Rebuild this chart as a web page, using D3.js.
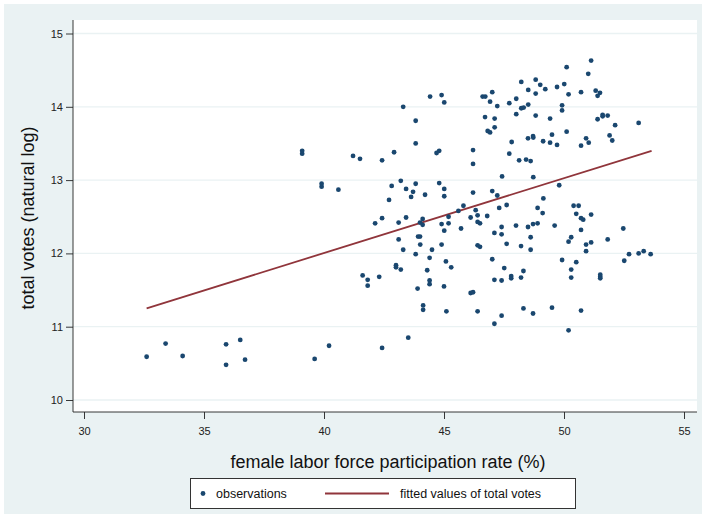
<!DOCTYPE html>
<html><head><meta charset="utf-8">
<script src="https://cdn.jsdelivr.net/npm/d3@7"></script>
<style>body{margin:0;background:#fff}svg{display:block}text{font-family:"Liberation Sans",Arial,sans-serif}</style>
</head><body>
<script>
const obsX = [39.09,39.09,39.90,39.90,32.61,33.40,34.11,35.92,35.92,36.51,36.71,39.61,40.21,
44.42,44.90,45.01,43.30,43.82,43.82,41.21,41.50,42.42,42.92,44.69,44.80,40.60,43.20,43.82,42.82,43.42,43.71,43.63,44.21,44.80,45.01,45.01,42.71,42.42,42.13,43.11,43.42,44.11,44.00,44.11,44.90,45.19,45.19,45.01,43.11,43.92,44.00,44.01,43.30,43.82,44.50,44.90,44.40,
45.08,41.61,41.82,41.82,42.30,43.00,43.00,43.20,44.30,44.40,44.40,43.90,45.00,44.13,44.13,45.10,42.42,43.51,
50.11,48.22,48.82,49.01,48.51,48.82,49.22,49.71,50.01,50.19,46.61,46.72,47.01,46.92,47.22,47.72,48.01,48.22,48.32,48.51,48.01,48.82,49.92,49.92,46.71,47.11,47.11,46.82,46.92,49.42,50.11,49.50,48.50,48.71,48.72,47.82,49.13,49.42,49.71,46.21,47.72,48.13,48.42,48.61,46.21,47.42,48.72,46.21,47.01,47.22,49.80,49.14,
45.81,45.60,45.71,46.11,46.32,46.40,46.40,46.50,46.80,47.30,47.61,47.40,47.10,47.40,48.00,46.40,46.50,47.61,48.21,48.50,48.71,48.90,48.90,49.11,49.61,48.61,48.61,50.19,45.30,46.11,46.21,47.01,47.10,47.40,47.51,47.80,47.80,48.21,48.31,49.92,46.40,47.40,47.10,48.31,48.71,49.50,50.19,
51.13,51.01,50.71,51.32,51.50,51.40,51.40,51.61,51.61,51.82,53.11,52.13,50.92,51.03,51.90,52.01,50.71,
50.40,50.61,50.51,51.13,50.71,50.80,50.71,52.47,51.82,50.30,50.92,51.13,50.92,52.71,53.11,53.32,53.61,52.51,50.51,50.30,50.30,51.51,51.51,51.51,50.71];
const obsY = [13.36,13.40,12.91,12.95,10.59,10.77,10.60,10.76,10.48,10.82,10.55,10.56,10.74,
14.14,14.16,14.06,14.00,13.81,13.50,13.33,13.29,13.27,13.38,13.37,13.40,12.87,12.99,12.95,12.92,12.88,12.84,12.77,12.80,12.96,12.88,12.78,12.73,12.48,12.41,12.42,12.49,12.47,12.42,12.39,12.40,12.50,12.41,12.31,12.19,12.23,12.23,12.12,12.05,11.99,12.05,12.12,11.94,
11.89,11.70,11.64,11.56,11.68,11.84,11.81,11.78,11.77,11.63,11.58,11.52,11.55,11.29,11.23,11.21,10.71,10.85,
14.54,14.34,14.37,14.30,14.23,14.18,14.24,14.27,14.31,14.17,14.14,14.14,14.20,14.07,14.01,14.05,14.11,13.98,13.99,14.03,13.90,13.88,14.02,13.95,13.86,13.84,13.72,13.67,13.65,13.84,13.66,13.62,13.57,13.60,13.58,13.52,13.53,13.51,13.48,13.41,13.36,13.27,13.28,13.26,13.22,13.05,13.04,12.83,12.85,12.79,12.93,12.75,
12.65,12.58,12.34,12.49,12.59,12.52,12.43,12.41,12.51,12.62,12.66,12.36,12.28,12.26,12.38,12.11,12.09,12.13,12.10,12.36,12.40,12.41,12.62,12.55,12.38,12.22,12.05,12.16,11.81,11.46,11.47,11.92,11.64,11.63,11.80,11.69,11.66,11.67,11.76,11.91,11.21,11.15,11.04,11.25,11.18,11.26,10.95,
14.63,14.45,14.20,14.22,14.19,14.15,13.83,13.89,13.87,13.88,13.78,13.75,13.57,13.51,13.61,13.54,13.47,
12.65,12.65,12.54,12.53,12.48,12.46,12.32,12.34,12.19,12.22,12.12,12.15,12.03,11.99,12.00,12.03,11.99,11.90,11.88,11.78,11.67,11.71,11.68,11.66,11.22];
const fitX = [32.61, 53.65];
const fitY = [11.25, 13.40];
const xTicks = [30, 35, 40, 45, 50, 55];
const yTicks = [10, 11, 12, 13, 14, 15];
const xTitle = "female labor force participation rate (%)";
const yTitle = "total votes (natural log)";
const legendLabels = ["observations", "fitted values of total votes"];

const W = 706, H = 518;
const plot = {left: 73, right: 697, top: 20, bottom: 412};
const navy = "#1a476f", maroon = "#90353b", bg = "#eaf2f3";

const svg = d3.select("body").append("svg").attr("width", W).attr("height", H);
svg.append("rect").attr("x", 4).attr("y", 4).attr("width", W - 8).attr("height", H - 8).attr("fill", bg);
svg.append("rect").attr("x", plot.left).attr("y", plot.top)
  .attr("width", plot.right - plot.left).attr("height", plot.bottom - plot.top).attr("fill", "#fff");

const x = d3.scaleLinear().domain([30, 55]).range([84, 684]);
const y = d3.scaleLinear().domain([10, 15]).range([400, 33.5]);

// gridlines
svg.append("g").selectAll("line").data(yTicks).join("line")
  .attr("x1", plot.left).attr("x2", plot.right)
  .attr("y1", d => y(d)).attr("y2", d => y(d))
  .attr("stroke", bg).attr("stroke-width", 1.3);

// axes
const yAxis = svg.append("g").attr("transform", `translate(${plot.left},0)`)
  .call(d3.axisLeft(y).tickValues(yTicks).tickFormat(d3.format("d")).tickSize(7).tickPadding(3));
const xAxis = svg.append("g").attr("transform", `translate(0,${plot.bottom})`)
  .call(d3.axisBottom(x).tickValues(xTicks).tickFormat(d3.format("d")).tickSize(7).tickPadding(8));
yAxis.select(".domain").attr("d", `M0,${plot.top}V${plot.bottom}`);
xAxis.select(".domain").attr("d", `M${plot.left},0H${plot.right}`);
[xAxis, yAxis].forEach(a => {
  a.selectAll("path,line").attr("stroke", "#222").attr("stroke-width", 0.9);
  a.selectAll("text").attr("font-size", 11).attr("fill", "#222")
    .style("font-family", '"Liberation Sans", Arial, sans-serif');
});

// fitted line
const pts = fitX.map((v, i) => [v, fitY[i]]);
svg.append("path").datum(pts)
  .attr("d", d3.line().x(d => x(d[0])).y(d => y(d[1])))
  .attr("stroke", maroon).attr("stroke-width", 1.8).attr("fill", "none");

// observations
svg.append("g").selectAll("circle").data(obsX.map((v, i) => [v, obsY[i]])).join("circle")
  .attr("cx", d => x(d[0])).attr("cy", d => y(d[1])).attr("r", 2.4).attr("fill", navy);

// titles
svg.append("text").attr("x", 388).attr("y", 468)
  .attr("text-anchor", "middle").attr("font-size", 18).attr("fill", "#111").text(xTitle);
svg.append("text").attr("transform", `translate(34,218) rotate(-90)`)
  .attr("text-anchor", "middle").attr("font-size", 18).attr("fill", "#111").text(yTitle);

// legend
const lg = svg.append("g");
lg.append("rect").attr("x", 190.5).attr("y", 478.5).attr("width", 385).attr("height", 30)
  .attr("fill", "#fff").attr("stroke", "#333").attr("stroke-width", 1);
lg.append("circle").attr("cx", 203).attr("cy", 493.5).attr("r", 2.4).attr("fill", navy);
lg.append("text").attr("x", 216).attr("y", 498).attr("font-size", 12.5).attr("fill", "#111").text(legendLabels[0]);
lg.append("line").attr("x1", 325).attr("x2", 389).attr("y1", 493.5).attr("y2", 493.5)
  .attr("stroke", maroon).attr("stroke-width", 1.8);
lg.append("text").attr("x", 400).attr("y", 498).attr("font-size", 12.5).attr("fill", "#111").text(legendLabels[1]);
</script>
</body></html>
